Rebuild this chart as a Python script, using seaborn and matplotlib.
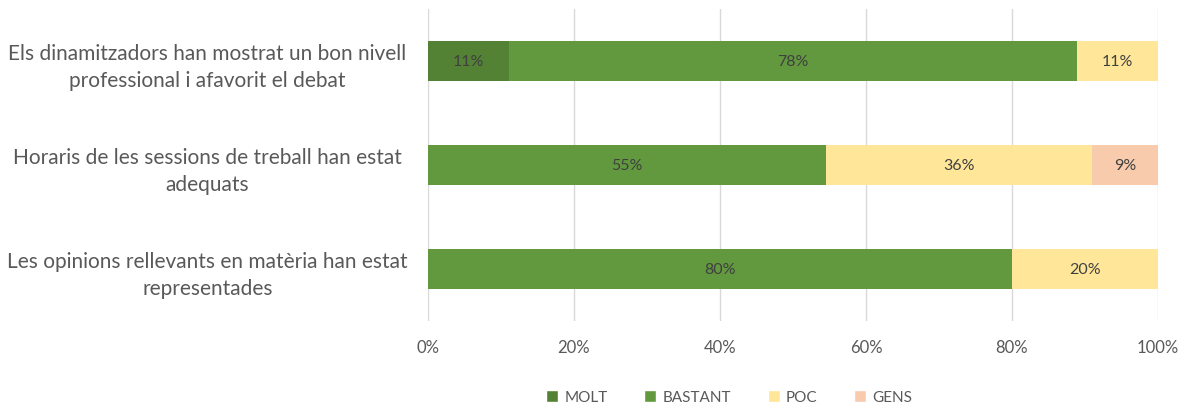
import numpy as np
import pandas as pd
import seaborn as sns
import matplotlib.pyplot as plt
from matplotlib.patches import Patch

questions = [
    "Els dinamitzadors han mostrat un bon nivell\nprofessional i afavorit el debat",
    "Horaris de les sessions de treball han estat\nadequats",
    "Les opinions rellevants en matèria han estat\nrepresentades",
]
levels = ["MOLT", "BASTANT", "POC", "GENS"]
molt = [11.1, 0.0, 0.0]
bastant = [77.8, 54.55, 80.0]
poc = [11.1, 36.35, 20.0]
gens = [0.0, 9.1, 0.0]
colors = ["#548235", "#62993E", "#FFE699", "#F8CBAD"]

df = pd.DataFrame({"question": questions, "MOLT": molt, "BASTANT": bastant,
                   "POC": poc, "GENS": gens})
cum = df[levels].cumsum(axis=1)

sns.set_style("white")
plt.rcParams['font.family'] = ['Lato', 'DejaVu Sans']

fig = plt.figure(figsize=(11.8, 4.1), dpi=100)
ax = fig.add_axes([0.3627, 0.2146, 0.6187, 0.761])

# stacked bars: draw cumulative totals from last level to first
for lvl, col in reversed(list(zip(levels, colors))):
    sns.barplot(x=cum[lvl], y=df["question"], color=col, orient="h",
                width=0.39, ax=ax, saturation=1, linewidth=0)

for i, q in enumerate(questions):
    left = 0
    for lvl in levels:
        v = df.loc[i, lvl]
        if v > 0:
            ax.text(left + v / 2, i, f"{round(v):.0f}%", ha="center", va="center",
                    fontsize=11.5, color="#404040")
        left += v

ax.set_xlim(0, 100)
ax.set_ylim(2.5, -0.5)
ax.set_xticks(np.arange(0, 101, 20))
ax.set_xticklabels([f"{t}%" for t in range(0, 101, 20)], fontsize=12, color="#595959")
ax.tick_params(axis="x", length=0, pad=13)
ax.tick_params(axis="y", length=0, pad=0)
ax.set_yticks(range(3))
ax.set_yticklabels(questions, fontsize=15, color="#595959", ha="center",
                   multialignment="center", linespacing=1.45)
for lab in ax.get_yticklabels():
    lab.set_x(-0.302)
ax.grid(axis="x", color="#D9D9D9", linewidth=1)
ax.set_axisbelow(True)
for s in ax.spines.values():
    s.set_visible(False)
ax.set_xlabel("")
ax.set_ylabel("")

handles = [Patch(facecolor=c, label=l) for l, c in zip(levels, colors)]
fig.legend(handles=handles, loc="lower center", bbox_to_anchor=(0.618, -0.022),
           ncol=4, frameon=False, fontsize=11, handlelength=0.8, handleheight=0.8,
           handletextpad=0.4, columnspacing=2.4, labelcolor="#595959")

fig.savefig("out.png", dpi=100)
